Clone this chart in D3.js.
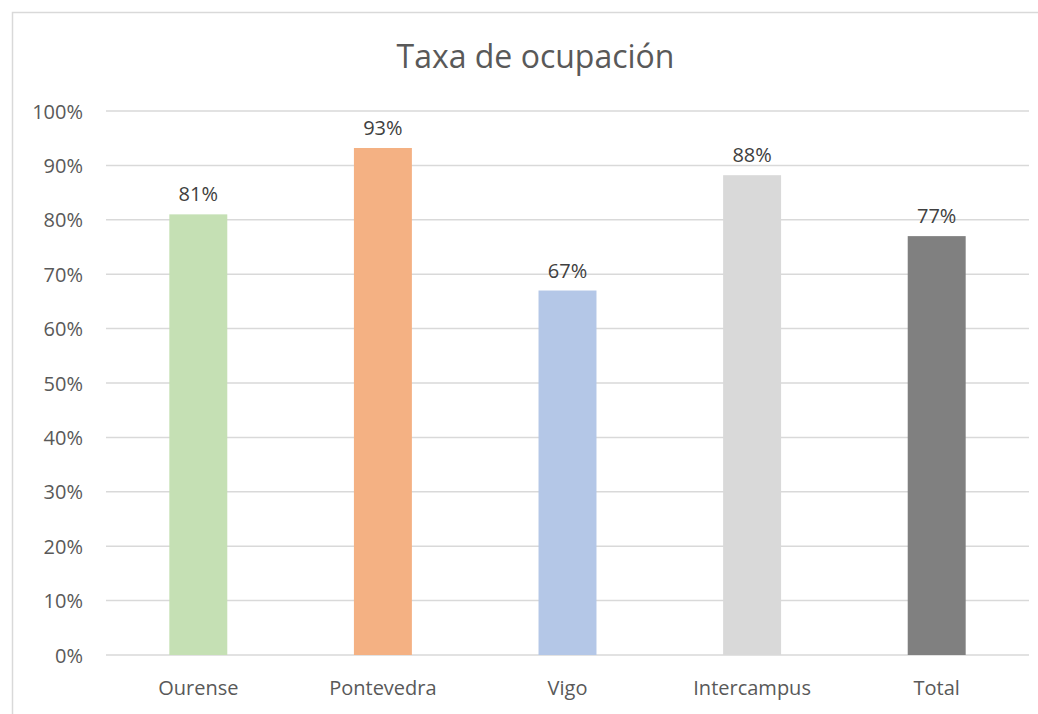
<!DOCTYPE html>
<html><head><meta charset="utf-8">
<script src="https://cdn.jsdelivr.net/npm/d3@7"></script>
<style>body{margin:0;background:#fff;} svg{display:block;}</style>
</head><body>
<script>
const categories = ["Ourense", "Pontevedra", "Vigo", "Intercampus", "Total"];
const values = [0.81, 0.932, 0.67, 0.882, 0.77];
const labels = ["81%", "93%", "67%", "88%", "77%"];
const colors = ["#C5E0B4", "#F4B183", "#B4C7E7", "#D9D9D9", "#808080"];
const yTicks = [0, 0.1, 0.2, 0.3, 0.4, 0.5, 0.6, 0.7, 0.8, 0.9, 1.0];
const title = "Taxa de ocupación";

(function () {
const W = 1038, H = 714;
const svg = d3.select("body").append("svg").attr("width", W).attr("height", H);
const font = "'Open Sans', 'Liberation Sans', sans-serif";
const textColor = "#595959";

// chart border
svg.append("rect").attr("x", 12.5).attr("y", 12.5).attr("width", 1040).attr("height", 720)
  .attr("fill", "none").attr("stroke", "#D9D9D9").attr("stroke-width", 1.5);

const pl = 106, pr = 1029, pt = 111, pb = 655;
const x = d3.scaleBand().domain(categories).range([pl, pr]).paddingInner(0.686).paddingOuter(0.343);
const y = d3.scaleLinear().domain([0, 1]).range([pb, pt]);

// gridlines
svg.append("g").selectAll("line").data(yTicks).join("line")
  .attr("x1", pl).attr("x2", pr)
  .attr("y1", d => y(d)).attr("y2", d => y(d))
  .attr("stroke", "#D9D9D9").attr("stroke-width", 1.5);

// y axis labels
const yAxis = d3.axisLeft(y).tickValues(yTicks).tickFormat(d3.format(".0%")).tickSize(0).tickPadding(0);
const gy = svg.append("g").attr("transform", `translate(${83},0)`).call(yAxis);
gy.select(".domain").remove();
gy.selectAll("text").attr("font-family", font).attr("font-size", 20).attr("fill", textColor).attr("dy", "0.35em");

// bars
svg.append("g").selectAll("rect").data(categories).join("rect")
  .attr("x", d => x(d)).attr("width", x.bandwidth())
  .attr("y", (d, i) => y(values[i])).attr("height", (d, i) => y(0) - y(values[i]))
  .attr("fill", (d, i) => colors[i]);

// data labels
svg.append("g").selectAll("text").data(categories).join("text")
  .attr("x", d => x(d) + x.bandwidth() / 2)
  .attr("y", (d, i) => y(values[i]) - 13)
  .attr("text-anchor", "middle")
  .attr("font-family", font).attr("font-size", 20).attr("fill", "#404040")
  .text((d, i) => labels[i]);

// x axis labels
const xAxis = d3.axisBottom(x).tickSize(0).tickPadding(0);
const gx = svg.append("g").attr("transform", `translate(0,${695})`).call(xAxis);
gx.select(".domain").remove();
gx.selectAll("text").attr("font-family", font).attr("font-size", 20).attr("fill", textColor).attr("dy", 0);

// title
svg.append("text").attr("x", (pl + pr) / 2 - 32).attr("y", 68)
  .attr("text-anchor", "middle").attr("font-family", font).attr("font-size", 32)
  .attr("fill", textColor).text(title);
})();
</script>
</body></html>
